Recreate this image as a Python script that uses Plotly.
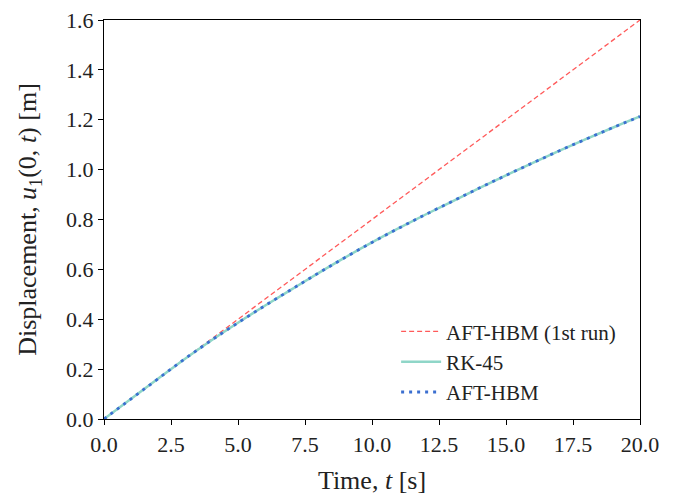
import plotly.graph_objects as go

t_first = [0.0, 20.0]
u_first = [0.0, 1.6]

t_vals = [0, 1, 2, 3, 4, 5, 6, 7, 8, 9, 10, 11, 12, 13, 14, 15, 16, 17, 18, 19, 20]
u_rk45 = [0.0, 0.08, 0.16, 0.24, 0.315, 0.386, 0.454, 0.52, 0.585, 0.648, 0.708,
          0.765, 0.82, 0.873, 0.926, 0.977, 1.027, 1.076, 1.123, 1.169, 1.213]
u_hbm = list(u_rk45)

x_ticks = [0, 2.5, 5, 7.5, 10, 12.5, 15, 17.5, 20]
y_ticks = [0, 0.2, 0.4, 0.6, 0.8, 1.0, 1.2, 1.4, 1.6]

FONT = "Liberation Serif, DejaVu Serif, serif"

fig = go.Figure()
fig.add_trace(go.Scatter(x=t_first, y=u_first, mode="lines", name="AFT-HBM (1st run)",
                         line=dict(color="#ff5a5a", width=1.3, dash="5px,3px")))
fig.add_trace(go.Scatter(x=t_vals, y=u_rk45, mode="lines", name="RK-45",
                         line=dict(color="#8fd6c8", width=2.5, shape="spline")))
fig.add_trace(go.Scatter(x=t_vals, y=u_hbm, mode="lines", name="AFT-HBM",
                         line=dict(color="#3b6fd0", width=2.8, dash="3px,5px", shape="spline")))

axis_common = dict(showgrid=False, zeroline=False, showline=True, linecolor="black",
                   linewidth=1.2, mirror=True, ticks="outside", ticklen=5, tickwidth=1.2,
                   tickcolor="black", automargin=False, ticklabeloverflow="allow",
                   tickfont=dict(family=FONT, size=22, color="#222"))

fig.update_xaxes(range=[0, 20], tickvals=x_ticks, tickformat=".1f",
                 title=dict(text="Time, <i>t</i> [s]", font=dict(family=FONT, size=26, color="#222"),
                            standoff=15), **axis_common)
fig.update_yaxes(range=[0, 1.6], tickvals=y_ticks, tickformat=".1f",
                 title=dict(text="Displacement, <i>u</i><sub>1</sub>(0, <i>t</i>) [m]",
                            font=dict(family=FONT, size=26, color="#222"), standoff=21),
                 **axis_common)

# the page body adds an 8 px offset, so the figure is drawn 8 px smaller
fig.update_layout(
    width=666, height=490,
    margin=dict(l=96, r=34, t=12, b=79),
    plot_bgcolor="white", paper_bgcolor="white",
    font=dict(family=FONT, color="#222"),
    legend=dict(x=0.545, y=0.27, xanchor="left", yanchor="top",
                bgcolor="rgba(255,255,255,0.8)", borderwidth=0,
                font=dict(family=FONT, size=21, color="#222"),
                itemwidth=40, tracegroupgap=0),
    showlegend=True,
)

fig.write_html("out.html")
